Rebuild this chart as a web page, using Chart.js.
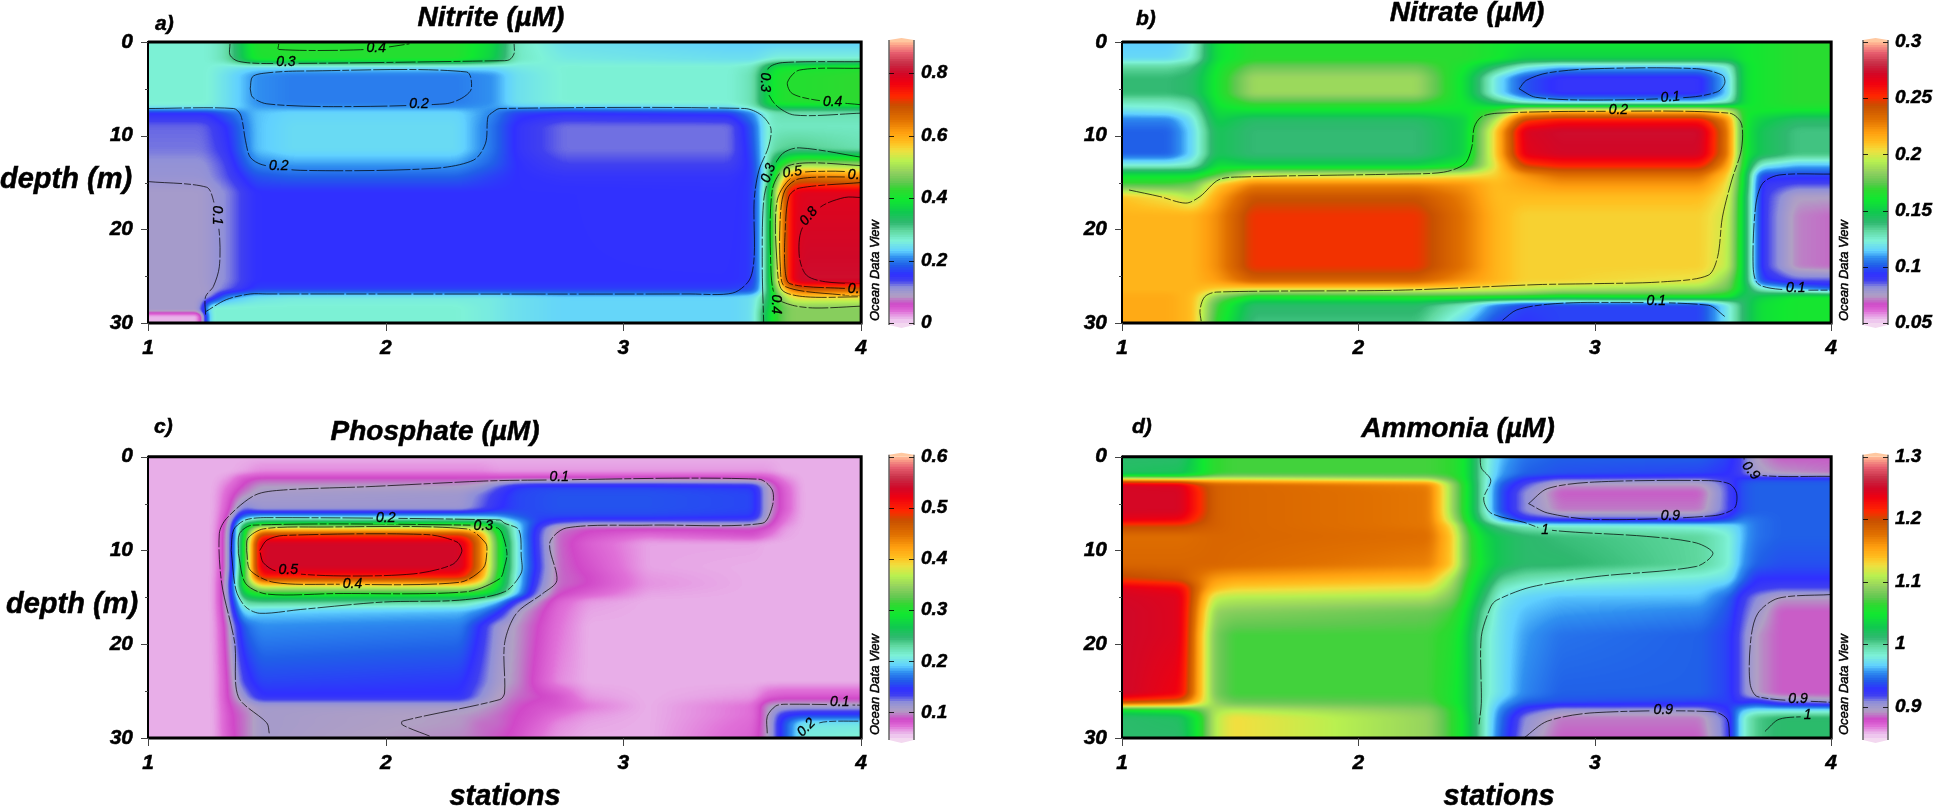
<!DOCTYPE html>
<html lang="en">
<head>
  <meta charset="UTF-8" />
  <title>Nutrients by station and depth</title>
  <script src="https://cdn.jsdelivr.net/npm/chart.js@4"></script>
  <style>
    body { margin: 0; background: #fff; }
    canvas { position: absolute; }
  </style>
</head>
<body>
<canvas id="mapA"></canvas><canvas id="barA"></canvas>
<canvas id="mapB"></canvas><canvas id="barB"></canvas>
<canvas id="mapC"></canvas><canvas id="barC"></canvas>
<canvas id="mapD"></canvas><canvas id="barD"></canvas>
<script>
// ---- axis ticks
const stationTicks = [1, 2, 3, 4];
const depthTicks = [0, 5, 10, 15, 20, 25, 30];
const nitriteScale = [0, 0.2, 0.4, 0.6, 0.8];
const nitrateScale = [0.05, 0.1, 0.15, 0.2, 0.25, 0.3];
const phosphateScale = [0.1, 0.2, 0.3, 0.4, 0.5, 0.6];
const ammoniaScale = [0.9, 1, 1.1, 1.2, 1.3];

// ---- Nitrite, values (rows = depths, columns = stations)
const nitriteStations = [1, 1.23, 1.25, 1.33, 1.45, 1.6, 2.3, 2.45, 2.55, 2.75, 3.45, 3.55, 3.6, 3.64, 3.7, 3.75, 4];
const nitriteDepths = [0, 1.9, 2.6, 3.5, 6.5, 7, 7.5, 9, 11.5, 13, 14.4, 16, 25.5, 26.5, 27.2, 28.3, 28.9, 29, 30];
const nitriteValues = [
  [.26,.26,.26,.28,.41,.41,.41,.37,.27,.24,.225,.225,.225,.225,.225,.225,.225],
  [.26,.26,.26,.28,.40,.41,.41,.36,.27,.25,.24,.24,.25,.26,.26,.26,.26],
  [.26,.26,.26,.25,.24,.24,.24,.24,.25,.26,.26,.27,.33,.38,.39,.39,.40],
  [.26,.26,.26,.24,.205,.195,.195,.205,.24,.26,.26,.28,.36,.40,.41,.41,.42],
  [.26,.26,.26,.24,.205,.195,.195,.205,.24,.26,.26,.28,.36,.40,.41,.41,.42],
  [.25,.25,.25,.24,.21,.205,.205,.21,.22,.22,.24,.27,.32,.35,.35,.35,.35],
  [.15,.15,.15,.18,.22,.23,.23,.2,.16,.15,.16,.21,.26,.28,.28,.28,.28],
  [.12,.12,.125,.15,.22,.235,.235,.19,.145,.117,.117,.18,.26,.27,.27,.27,.27],
  [.115,.115,.12,.14,.22,.235,.235,.19,.145,.117,.117,.17,.26,.29,.30,.30,.28],
  [.105,.105,.11,.13,.2,.21,.21,.18,.15,.13,.13,.16,.26,.36,.45,.48,.47],
  [.102,.102,.105,.125,.17,.18,.18,.16,.15,.145,.145,.155,.26,.42,.62,.65,.62],
  [.09,.09,.095,.11,.15,.15,.15,.15,.15,.15,.148,.155,.28,.5,.76,.78,.78],
  [.09,.09,.095,.11,.15,.15,.15,.15,.15,.15,.15,.155,.28,.5,.76,.8,.8],
  [.09,.09,.09,.12,.16,.16,.16,.16,.16,.16,.16,.17,.28,.46,.62,.66,.66],
  [.09,.09,.09,.2,.24,.25,.25,.25,.24,.23,.23,.24,.3,.42,.54,.56,.55],
  [.09,.09,.26,.26,.26,.26,.26,.25,.24,.23,.23,.24,.33,.41,.47,.47,.47],
  [.09,.09,.26,.26,.26,.26,.26,.25,.24,.23,.23,.24,.35,.42,.47,.47,.47],
  [.012,.012,.26,.26,.26,.26,.26,.25,.24,.23,.23,.24,.35,.42,.47,.47,.47],
  [.012,.012,.26,.26,.26,.26,.26,.25,.24,.23,.23,.24,.35,.42,.47,.47,.47]
];
const nitriteContours = [
  [[1.345,.2],[1.345,1.4],[1.38,2.06],[1.5,2.3],[2.479,2],[2.52,1.9],[2.54,1.24],[2.54,.2]],
  [[1.55,.2],[1.55,.8],[1.92,.8],[2.1,.2]],
  [[1.43,5],[1.44,3.7],[1.5,3.3],[1.64,3.1],[2.34,3.2],[2.36,5],[2.32,6],[2.25,6.6],[1.78,6.9],[1.5,6.6],[1.44,5.9],[1.43,5]],
  [[1,7.1],[1.36,7.1],[1.39,7.8],[1.41,10.5],[1.43,12.3],[1.48,13.1],[1.64,13.7],[2.2,13.5],[2.37,12.6],[2.42,10.8],[2.43,8],[2.45,7.5],[2.48,7.1],[3.51,7.1],[3.58,7.8],[3.62,9.2],[3.61,11.2],[3.57,13.7],[3.55,16.9],[3.55,22.9],[3.53,25.4],[3.46,26.8],[3.28,26.9],[1.5,26.9],[1.43,26.9],[1.33,27.5],[1.242,28.8]],
  [[1,14.9],[1.246,15.5],[1.275,16.9],[1.3,20.4],[1.3,24],[1.275,26.1],[1.242,27.2],[1.242,29.1]],
  [[4,2.1],[3.67,2.2],[3.61,2.8],[3.6,4.8],[3.64,6.7],[3.72,7.8],[4,7.6]],
  [[4,2.8],[3.74,3],[3.69,4.3],[3.71,5.5],[3.81,6.2],[4,6.7]],
  [[4,12.3],[3.74,11.3],[3.67,11.9],[3.62,14],[3.59,16.9],[3.584,24],[3.59,30]],
  [[4,13.2],[3.78,12.9],[3.68,13.4],[3.626,15.8],[3.62,24],[3.64,27.2],[3.71,28.1],[3.81,28.4],[4,28.2]],
  [[4,13.9],[3.85,13.8],[3.72,14.2],[3.647,16.9],[3.647,24],[3.668,26.5],[3.766,27.2],[4,27.2]],
  [[4,14.4],[3.74,14.6],[3.68,15.8],[3.66,18.6],[3.66,24],[3.68,26.1],[3.92,27],[4,27]],
  [[4,15],[3.74,15.6],[3.696,16.5],[3.68,20.4],[3.68,24.3],[3.70,25.8],[3.92,26.3],[4,26.3]],
  [[4,16.6],[3.93,16.6],[3.83,17.6],[3.75,20],[3.74,22.9],[3.77,24.9],[3.85,25.6],[4,25.8]]
];
const nitriteLabels = [
  ['0.4',1.96,.7,0],['0.3',1.58,2.1,0],['0.2',2.14,6.6,0],['0.2',1.55,13.25,0],['0.1',1.29,18.5,90],
  ['0.3',3.595,4.3,90],['0.4',3.88,6.4,0],['0.3',3.61,14,-70],['0.5',3.71,13.9,-8],['0.6',3.985,14.2,0],
  ['0.8',3.78,18.6,-50],['0.7',3.985,26.4,0],['0.4',3.64,28,90]
];

// ---- Nitrate
const nitrateStations = [1, 1.2, 1.3, 1.4, 1.55, 2.25, 2.45, 2.58, 2.7, 2.85, 3.45, 3.57, 3.63, 3.7, 3.85, 4];
const nitrateDepths = [0, 1.8, 2.6, 3.8, 5.5, 6.5, 7.2, 8.3, 9.5, 12, 13.2, 14.2, 15.2, 16.5, 18.5, 24, 25.5, 26.4, 27.2, 28, 30];
const nitrateValues = [
  [.112,.112,.12,.155,.165,.165,.165,.16,.158,.158,.158,.158,.158,.16,.165,.165],
  [.115,.115,.122,.155,.165,.165,.165,.16,.15,.15,.15,.15,.158,.16,.165,.165],
  [.13,.13,.135,.158,.175,.175,.16,.14,.122,.112,.112,.122,.155,.16,.165,.165],
  [.137,.137,.14,.16,.185,.185,.155,.118,.098,.09,.09,.115,.155,.16,.165,.165],
  [.137,.137,.14,.16,.185,.185,.155,.118,.098,.09,.09,.115,.155,.16,.165,.165],
  [.125,.125,.13,.158,.17,.17,.158,.14,.122,.115,.115,.125,.155,.16,.165,.165],
  [.118,.12,.125,.155,.158,.158,.158,.165,.195,.2,.2,.19,.16,.16,.16,.16],
  [.105,.105,.118,.15,.14,.14,.15,.19,.245,.255,.255,.22,.16,.15,.14,.14],
  [.1,.1,.115,.145,.137,.137,.15,.205,.268,.272,.272,.225,.16,.145,.135,.135],
  [.1,.1,.115,.145,.137,.137,.15,.205,.265,.27,.27,.225,.16,.145,.135,.135],
  [.122,.122,.125,.155,.15,.15,.16,.2,.245,.252,.252,.215,.16,.12,.11,.11],
  [.155,.155,.155,.17,.195,.195,.2,.205,.22,.23,.23,.205,.155,.095,.095,.095],
  [.17,.17,.175,.205,.225,.225,.22,.21,.215,.22,.22,.2,.155,.09,.085,.085],
  [.208,.2,.19,.215,.24,.24,.225,.21,.21,.21,.21,.198,.15,.09,.073,.073],
  [.212,.212,.212,.222,.248,.248,.228,.212,.205,.205,.205,.195,.15,.09,.07,.068],
  [.212,.212,.212,.222,.248,.248,.228,.212,.205,.205,.205,.193,.15,.09,.07,.068],
  [.212,.212,.212,.218,.235,.235,.22,.212,.205,.205,.2,.18,.15,.095,.085,.085],
  [.212,.212,.212,.205,.2,.2,.2,.198,.195,.19,.185,.175,.15,.125,.11,.1],
  [.215,.215,.21,.18,.16,.165,.165,.165,.165,.16,.165,.16,.14,.15,.16,.16],
  [.215,.215,.21,.17,.14,.14,.125,.105,.095,.095,.095,.12,.14,.155,.16,.16],
  [.215,.215,.21,.165,.135,.135,.112,.095,.092,.095,.095,.12,.14,.155,.16,.16]
];
const nitrateContours = [
  [[1.03,15.8],[1.16,16.5],[1.27,17.2],[1.33,16.5],[1.41,14.7],[1.52,14.4],[2.17,14.1],[2.36,13.9],[2.45,13],[2.48,11.2],[2.49,9.1],[2.52,8],[2.59,7.6],[3,7.4],[3.57,7.6],[3.62,8.7],[3.62,11.5],[3.58,14.7],[3.54,18.7],[3.52,22.9],[3.48,24.9],[3.29,25.6],[3,25.8],[2.76,25.9],[2.17,26.5],[1.4,26.7],[1.35,27.2],[1.33,28.6],[1.335,29.8]],
  [[2.68,5],[2.71,4.1],[2.8,3.3],[3,2.85],[3.43,2.85],[3.54,3.55],[3.55,4.4],[3.52,5.3],[3.4,5.9],[3,6.2],[2.75,5.9],[2.68,5]],
  [[2.61,29.7],[2.67,28.6],[2.8,28],[3,27.8],[3.48,28.1],[3.55,29.3]],
  [[4,14.1],[3.78,14.2],[3.71,15.1],[3.68,17.6],[3.67,24],[3.69,25.8],[3.78,26.4],[4,26.5]]
];
const nitrateLabels = [['0.1',3.32,5.9,-5],['0.2',3.1,7.3,0],['0.1',3.26,27.7,0],['0.1',3.85,26.3,0]];

// ---- Phosphate
const phosphateStations = [1, 1.28, 1.34, 1.4, 1.47, 2.32, 2.4, 2.47, 2.55, 2.63, 2.72, 2.85, 3.1, 3.55, 3.61, 3.67, 3.75, 4];
const phosphateDepths = [0, 1.6, 2.3, 3.2, 4, 5.6, 6.4, 7, 7.6, 8.4, 9.2, 11.8, 12.8, 13.6, 14.6, 15.4, 16.4, 18, 24, 25.6, 26.6, 27.6, 28.4, 30];
const phosphateValues = [
  [.058,.058,.058,.058,.058,.058,.058,.058,.058,.058,.058,.058,.058,.058,.058,.058,.058,.058],
  [.058,.058,.058,.06,.065,.065,.065,.062,.062,.062,.062,.062,.062,.062,.062,.058,.058,.058],
  [.058,.058,.062,.078,.085,.085,.085,.085,.085,.085,.085,.085,.085,.085,.08,.065,.058,.058],
  [.058,.058,.07,.085,.1,.1,.105,.125,.145,.15,.15,.15,.15,.145,.1,.075,.058,.058],
  [.058,.058,.075,.095,.105,.108,.12,.135,.15,.152,.155,.155,.155,.15,.1,.078,.058,.058],
  [.058,.058,.08,.125,.11,.11,.125,.14,.15,.152,.155,.155,.155,.15,.1,.078,.058,.058],
  [.058,.058,.085,.17,.19,.19,.185,.18,.16,.15,.15,.15,.15,.145,.098,.072,.058,.058],
  [.058,.058,.09,.23,.26,.26,.26,.24,.19,.15,.13,.12,.12,.12,.09,.068,.058,.058],
  [.058,.058,.095,.27,.38,.38,.36,.28,.2,.14,.095,.085,.085,.085,.08,.062,.058,.058],
  [.058,.058,.1,.27,.49,.49,.43,.3,.2,.135,.09,.08,.07,.08,.068,.06,.058,.058],
  [.058,.058,.1,.28,.535,.535,.44,.31,.205,.135,.09,.075,.06,.06,.058,.058,.058,.058],
  [.058,.058,.1,.28,.535,.535,.44,.31,.205,.14,.09,.08,.06,.058,.058,.058,.058,.058],
  [.058,.058,.105,.29,.5,.5,.42,.3,.2,.135,.09,.083,.062,.058,.058,.058,.058,.058],
  [.058,.058,.11,.3,.4,.4,.37,.29,.2,.13,.09,.083,.063,.058,.058,.058,.058,.058],
  [.058,.058,.11,.27,.3,.3,.29,.26,.19,.12,.085,.075,.06,.058,.058,.058,.058,.058],
  [.058,.058,.11,.23,.24,.23,.21,.19,.13,.1,.075,.062,.058,.058,.058,.058,.058,.058],
  [.058,.058,.105,.2,.19,.185,.175,.15,.105,.09,.072,.06,.058,.058,.058,.058,.058,.058],
  [.058,.058,.095,.16,.175,.17,.14,.11,.098,.085,.07,.058,.058,.058,.058,.058,.058,.058],
  [.058,.058,.085,.13,.15,.145,.125,.105,.096,.08,.065,.058,.058,.058,.058,.058,.058,.058],
  [.058,.058,.085,.11,.14,.14,.115,.1,.09,.085,.08,.062,.058,.062,.075,.078,.078,.078],
  [.058,.058,.082,.095,.105,.105,.1,.095,.085,.08,.078,.068,.058,.07,.1,.105,.105,.105],
  [.058,.058,.08,.09,.105,.098,.095,.09,.083,.078,.07,.062,.058,.07,.1,.14,.15,.15],
  [.058,.058,.08,.09,.105,.098,.09,.09,.082,.075,.065,.06,.058,.072,.1,.15,.2,.2],
  [.058,.058,.078,.09,.105,.095,.09,.085,.08,.07,.062,.058,.058,.075,.1,.15,.205,.21]
];
const phosphateContours = [
  [[1.51,29.5],[1.5,28.4],[1.38,25.6],[1.365,19.9],[1.31,13.5],[1.3,8.2],[1.33,6.6],[1.45,4.1],[1.57,3.55],[1.92,3.2],[2.41,2.6],[2.62,2.5],[3.57,2.4],[3.626,3.55],[3.626,5.3],[3.584,7.1],[3.11,7.3],[2.76,7.6],[2.69,9.2],[2.72,13.2],[2.66,14.6],[2.55,16.7],[2.5,19.9],[2.5,25.2],[2.48,25.9],[2.07,28.2],[2.07,28.6],[2.185,29.8]],
  [[1.35,10],[1.36,7.8],[1.41,6.75],[1.5,6.5],[2.48,6.75],[2.5,7.1],[2.56,7.8],[2.57,10.6],[2.57,12.4],[2.5,14.4],[2.31,15.3],[1.99,15.5],[1.64,16.3],[1.47,16.7],[1.41,16],[1.37,14.2],[1.35,10]],
  [[1.38,10.3],[1.385,8.2],[1.44,7.3],[2.37,7.3],[2.47,7.6],[2.49,8.2],[2.51,10.3],[2.5,11.7],[2.48,13],[2.34,14.4],[1.78,14.6],[1.5,14.65],[1.41,13.5],[1.38,10.3]],
  [[1.415,10],[1.42,8.7],[1.485,7.7],[1.71,7.5],[2.34,7.7],[2.42,9.2],[2.425,10.3],[2.41,11.9],[2.31,13.4],[1.78,13.6],[1.53,13.4],[1.43,12.1],[1.415,10]],
  [[1.47,10],[1.5,8.9],[1.57,8.4],[2.17,8.3],[2.3,9.1],[2.32,10.1],[2.28,11.5],[2.115,12.5],[1.78,12.7],[1.54,12.2],[1.485,11.3],[1.47,10]],
  [[3.605,29.5],[3.605,27.7],[3.64,26.6],[3.68,26.4],[4,26.5]],
  [[3.74,30],[3.77,29],[3.84,28.3],[4,28.2]]
];
const phosphateLabels = [['0.2',2,6.6,0],['0.3',2.41,7.4,0],['0.5',1.59,12.1,0],['0.4',1.86,13.6,0],['0.1',2.73,2.2,0],['0.1',3.91,26.2,0],['0.2',3.77,28.9,-45]];

// ---- Ammonia
const ammoniaStations = [1, 1.25, 1.33, 1.39, 1.47, 2.3, 2.4, 2.46, 2.53, 2.6, 2.7, 2.85, 3.45, 3.57, 3.62, 3.68, 3.78, 4];
const ammoniaDepths = [0, 1.9, 2.4, 2.9, 3.8, 5.8, 6.8, 7.3, 8.5, 11.5, 13, 14, 15, 16.5, 19, 25.3, 26.2, 27, 27.8, 30];
const ammoniaValues = [
  [1.01,1.01,1.04,1.06,1.065,1.065,1.06,1.04,.985,.96,.945,.94,.94,.93,.915,.89,.88,.88],
  [1.015,1.02,1.04,1.06,1.065,1.065,1.06,1.04,.985,.955,.94,.935,.93,.925,.915,.895,.89,.885],
  [1.13,1.12,1.12,1.12,1.12,1.1,1.07,1.04,.985,.95,.925,.91,.905,.92,.93,.935,.935,.935],
  [1.245,1.24,1.2,1.185,1.18,1.165,1.09,1.045,.985,.94,.915,.89,.89,.915,.935,.94,.94,.94],
  [1.245,1.245,1.21,1.185,1.18,1.17,1.09,1.045,.985,.935,.905,.88,.88,.915,.935,.94,.94,.94],
  [1.245,1.245,1.21,1.185,1.18,1.17,1.09,1.045,.985,.935,.905,.885,.885,.915,.935,.94,.94,.94],
  [1.235,1.23,1.2,1.185,1.18,1.17,1.1,1.05,1,.96,.925,.92,.92,.935,.95,.945,.94,.94],
  [1.2,1.2,1.19,1.185,1.18,1.17,1.12,1.06,1.02,1,.985,.98,.975,.97,.96,.945,.94,.94],
  [1.175,1.175,1.178,1.18,1.18,1.175,1.13,1.07,1.035,1.02,1.01,1.005,.995,.98,.96,.945,.94,.94],
  [1.18,1.18,1.18,1.18,1.178,1.165,1.13,1.07,1.04,1.02,1.01,1.01,.995,.98,.955,.94,.935,.935],
  [1.2,1.19,1.17,1.155,1.15,1.14,1.1,1.06,1.03,1,.99,.985,.975,.97,.945,.925,.925,.925],
  [1.24,1.23,1.17,1.14,1.13,1.12,1.09,1.055,1.02,.985,.975,.97,.965,.955,.93,.92,.915,.915],
  [1.245,1.24,1.16,1.11,1.105,1.1,1.08,1.05,1.01,.975,.965,.96,.96,.94,.92,.905,.89,.89],
  [1.248,1.24,1.15,1.09,1.085,1.075,1.065,1.04,.995,.97,.96,.955,.95,.935,.915,.9,.88,.88],
  [1.248,1.24,1.14,1.08,1.065,1.065,1.055,1.03,.985,.97,.955,.945,.94,.93,.91,.89,.88,.88],
  [1.248,1.23,1.14,1.08,1.065,1.065,1.05,1.03,.985,.97,.95,.94,.94,.93,.91,.89,.88,.88],
  [1.2,1.18,1.13,1.09,1.075,1.07,1.05,1.03,.985,.96,.94,.935,.93,.93,.92,.93,.91,.9],
  [1.04,1.05,1.07,1.1,1.105,1.085,1.06,1.03,.985,.95,.92,.9,.9,.925,.96,.97,.97,.97],
  [1.01,1.015,1.05,1.105,1.125,1.09,1.06,1.035,.985,.945,.905,.885,.885,.915,.975,1,1.01,1.01],
  [1.01,1.01,1.05,1.105,1.125,1.09,1.06,1.035,.985,.94,.9,.88,.88,.915,.975,1,1.01,1.01]
];
const ammoniaContours = [
  [[3.63,0],[3.64,.9],[3.69,1.95],[4,2.1]],
  [[2.72,5],[2.8,3.4],[3,2.7],[3.48,2.55],[3.57,2.9],[3.6,3.9],[3.59,5.5],[3.5,6.3],[3,6.7],[2.8,6],[2.72,5]],
  [[2.515,0],[2.52,1.2],[2.56,2.5],[2.53,4.5],[2.56,6],[2.7,7],[2.8,7.8],[3.22,8.5],[3.43,9.2],[3.5,10.3],[3.43,11.7],[3,12.8],[2.73,13.9],[2.585,15.3],[2.56,16],[2.52,19.2],[2.52,26.3],[2.51,28.6]],
  [[4,14.7],[3.776,15.1],[3.69,16.7],[3.66,19.5],[3.657,24.2],[3.69,25.6],[4,26.2]],
  [[2.7,30],[2.8,28.2],[3,27.3],[3.5,27.2],[3.56,28],[3.57,30]],
  [[3.72,29.3],[3.78,28],[3.9,27.7]]
];
const ammoniaLabels = [['0.9',3.66,1.5,50],['0.9',3.32,6.3,0],['1',2.79,7.8,0],['0.9',3.86,25.9,0],['0.9',3.29,27,0],['1',3.9,27.6,0]];

// ---- colour scale, same for all panels (position along range, colour)
const paletteStops = [0,.015,.035,.06,.09,.12,.145,.167,.2,.228,.25,.287,.322,.35,.387,.433,.469,.493,.529,.57,.607,.635,.671,.718,.767,.8,.848,.883,.919,.956,.989,1];
const paletteColors = ['#f0d0f0','#e8aee8','#e070d8','#d048c8','#b0a0c4','#9090d8','#4040f0','#3030ff','#2060e8','#3090f0','#60d0ff','#7ef2d8','#60d8a0','#30b870','#10c850','#10e830','#30d830','#60c850','#90d060','#b8f050','#f0e040','#ffc020','#ffa010','#e07000','#c85000','#ff2800','#f00010','#d00828','#c83048','#e86070','#ffb090','#ffc8a0'];

const FONT = 'Liberation Sans';
const lut = [];
function hex(c) {
  return [parseInt(c.slice(1, 3), 16), parseInt(c.slice(3, 5), 16), parseInt(c.slice(5, 7), 16)];
}
for (let i = 0; i <= 1000; i++) {
  const f = i / 1000;
  let k = 0;
  while (k < paletteStops.length - 2 && paletteStops[k + 1] < f) k++;
  const t = (f - paletteStops[k]) / (paletteStops[k + 1] - paletteStops[k]);
  const a = hex(paletteColors[k]), b = hex(paletteColors[k + 1]);
  lut.push([a[0] + (b[0] - a[0]) * t, a[1] + (b[1] - a[1]) * t, a[2] + (b[2] - a[2]) * t]);
}
function colorAt(v, range) {
  let f = (v - range[0]) / (range[1] - range[0]);
  f = Math.max(0, Math.min(1, f));
  return lut[Math.round(f * 1000)];
}

function segment(list, v) {
  let k = 0;
  while (k < list.length - 2 && list[k + 1] <= v) k++;
  return k;
}

// running mean along rows or columns, rounds off the corners of the field
function soften(vals, w, h, rx, ry) {
  const out = new Float32Array(vals.length);
  for (let y = 0; y < h; y++) {
    for (let x = 0; x < w; x++) {
      let sum = 0;
      for (let i = -rx; i <= rx; i++) sum += vals[y * w + Math.max(0, Math.min(w - 1, x + i))];
      out[y * w + x] = sum / (2 * rx + 1);
    }
  }
  const res = new Float32Array(vals.length);
  for (let y = 0; y < h; y++) {
    for (let x = 0; x < w; x++) {
      let sum = 0;
      for (let i = -ry; i <= ry; i++) sum += out[Math.max(0, Math.min(h - 1, y + i)) * w + x];
      res[y * w + x] = sum / (2 * ry + 1);
    }
  }
  return res;
}

// paints the gridded field into the plot, through the chart's own scales
function drawField(chart, p) {
  const area = chart.chartArea;
  const w = Math.ceil(area.right - area.left), h = Math.ceil(area.bottom - area.top);
  const off = document.createElement('canvas');
  off.width = w; off.height = h;
  const octx = off.getContext('2d');
  const img = octx.createImageData(w, h);
  const cols = [], rows = [];
  for (let x = 0; x < w; x++) {
    const s = chart.scales.x.getValueForPixel(area.left + x + 0.5);
    const k = segment(p.stations, s);
    cols.push([k, Math.min(1, Math.max(0, (s - p.stations[k]) / (p.stations[k + 1] - p.stations[k])))]);
  }
  for (let y = 0; y < h; y++) {
    const d = chart.scales.y.getValueForPixel(area.top + y + 0.5);
    const k = segment(p.depths, d);
    rows.push([k, Math.min(1, Math.max(0, (d - p.depths[k]) / (p.depths[k + 1] - p.depths[k])))]);
  }
  let vals = new Float32Array(w * h);
  for (let y = 0; y < h; y++) {
    const r0 = p.values[rows[y][0]], r1 = p.values[rows[y][0] + 1], v = rows[y][1];
    for (let x = 0; x < w; x++) {
      const c = cols[x][0], u = cols[x][1];
      vals[y * w + x] = (r0[c] * (1 - u) + r0[c + 1] * u) * (1 - v) + (r1[c] * (1 - u) + r1[c + 1] * u) * v;
    }
  }
  vals = soften(soften(vals, w, h, 5, 2), w, h, 5, 2);
  let n = 0;
  for (let i = 0; i < w * h; i++) {
    const rgb = colorAt(vals[i], p.range);
    img.data[n++] = rgb[0]; img.data[n++] = rgb[1]; img.data[n++] = rgb[2]; img.data[n++] = 255;
  }
  octx.putImageData(img, 0, 0);
  chart.$field = off;
  chart.ctx.drawImage(off, area.left, area.top);
}

function text(ctx, str, x, y, font, align) {
  ctx.font = font;
  ctx.textAlign = align || 'left';
  ctx.textBaseline = 'alphabetic';
  ctx.fillStyle = '#000';
  ctx.strokeStyle = '#000';
  ctx.lineWidth = 0.5;
  ctx.fillText(str, x, y);
  ctx.strokeText(str, x, y);
}

function mapPlugin(p) {
  return {
    id: 'field',
    beforeDatasetsDraw(chart) { drawField(chart, p); },
    afterDatasetsDraw(chart) {
      const ctx = chart.ctx, area = chart.chartArea, sx = chart.scales.x, sy = chart.scales.y;
      ctx.save();
      ctx.beginPath();
      ctx.rect(area.left, area.top, area.right - area.left, area.bottom - area.top);
      ctx.clip();
      ctx.font = 'italic 14px "' + FONT + '"';
      p.labels.forEach(function (l) {
        const px = sx.getPixelForValue(l[1]), py = sy.getPixelForValue(l[2]);
        const tw = ctx.measureText(l[0]).width + 6;
        // contour is broken under its label
        ctx.save();
        ctx.translate(px, py);
        ctx.rotate(l[3] * Math.PI / 180);
        ctx.beginPath();
        ctx.rect(-tw / 2, -6, tw, 12);
        ctx.clip();
        ctx.rotate(-l[3] * Math.PI / 180);
        ctx.translate(-px, -py);
        ctx.drawImage(chart.$field, area.left, area.top);
        ctx.restore();
        ctx.save();
        ctx.translate(px, py);
        ctx.rotate(l[3] * Math.PI / 180);
        ctx.textAlign = 'center';
        ctx.textBaseline = 'middle';
        ctx.fillStyle = '#000';
        ctx.strokeStyle = '#000';
        ctx.lineWidth = 0.3;
        ctx.font = 'italic 14px "' + FONT + '"';
        ctx.fillText(l[0], 0, 0);
        ctx.strokeText(l[0], 0, 0);
        ctx.restore();
      });
      ctx.restore();
      // frame and tick marks
      ctx.save();
      ctx.strokeStyle = '#000';
      ctx.lineWidth = 3;
      ctx.beginPath();
      ctx.moveTo(area.left, area.top); ctx.lineTo(area.right, area.top);
      ctx.lineTo(area.right, area.bottom); ctx.lineTo(area.left, area.bottom);
      ctx.stroke();
      ctx.lineWidth = 2;
      ctx.beginPath();
      ctx.moveTo(area.left, area.top - 1); ctx.lineTo(area.left, area.bottom + 1);
      ctx.stroke();
      ctx.strokeStyle = '#444';
      ctx.lineWidth = 1;
      ctx.beginPath();
      stationTicks.forEach(function (s) {
        const x = Math.round(sx.getPixelForValue(s)) + 0.5;
        ctx.moveTo(x, area.bottom); ctx.lineTo(x, area.bottom + 8);
      });
      depthTicks.forEach(function (d) {
        const y = Math.round(sy.getPixelForValue(d)) + 0.5;
        ctx.moveTo(area.left, y); ctx.lineTo(area.left - (d % 10 === 0 ? 7 : 3), y);
      });
      ctx.stroke();
      ctx.restore();
    },
    afterDraw(chart) {
      const ctx = chart.ctx;
      ctx.save();
      p.texts.forEach(function (t) { text(ctx, t[0], t[1], t[2], t[3], t[4]); });
      ctx.save();
      ctx.translate(p.odvX, p.odvY);
      ctx.rotate(-Math.PI / 2);
      text(ctx, 'Ocean Data View', 0, 0, 'italic 13px "' + FONT + '"');
      ctx.restore();
      ctx.restore();
    }
  };
}

function makeMap(p) {
  const el = document.getElementById(p.map);
  el.width = p.box[2]; el.height = p.box[3];
  el.style.left = p.box[0] + 'px'; el.style.top = p.box[1] + 'px';
  const tickFont = { family: FONT, size: 21, weight: 'bold', style: 'italic' };
  new Chart(el, {
    type: 'scatter',
    data: {
      datasets: p.contours.map(function (line) {
        return {
          data: line.map(function (q) { return { x: q[0], y: q[1] }; }),
          showLine: true,
          pointRadius: 0,
          borderColor: 'rgba(0,0,0,0.8)',
          borderWidth: 0.9,
          borderDash: [34, 2, 7, 2, 20, 2],
          tension: 0.3
        };
      })
    },
    options: {
      responsive: false,
      animation: false,
      events: [],
      layout: { padding: { left: 0, top: p.area[1], right: p.box[2] - p.area[2], bottom: 0 } },
      plugins: { legend: { display: false }, tooltip: { enabled: false } },
      scales: {
        x: {
          type: 'linear', min: 1, max: 4,
          grid: { display: false, drawTicks: false }, border: { display: false },
          afterFit: function (s) { s.height = p.box[3] - p.area[3]; },
          afterBuildTicks: function (s) { s.ticks = stationTicks.map(function (v) { return { value: v }; }); },
          ticks: { font: tickFont, color: '#000', textStrokeColor: '#000', textStrokeWidth: 0.5, padding: 13, maxRotation: 0, autoSkip: false }
        },
        y: {
          type: 'linear', min: 0, max: 30, reverse: true,
          grid: { display: false, drawTicks: false }, border: { display: false },
          afterFit: function (s) { s.width = p.area[0]; },
          afterBuildTicks: function (s) { s.ticks = depthTicks.map(function (v) { return { value: v }; }); },
          ticks: {
            font: tickFont, color: '#000', textStrokeColor: '#000', textStrokeWidth: 0.5, padding: 15, autoSkip: false,
            callback: function (v) { return v % 10 === 0 ? String(v) : ''; }
          }
        }
      }
    },
    plugins: [mapPlugin(p)]
  });
}

const colorbarPlugin = {
  id: 'colorbarFrame',
  afterDatasetsDraw(chart) {
    const ctx = chart.ctx, a = chart.chartArea;
    const tv = chart.options.scales.y.tickList;
    ctx.save();
    // end caps of the scale
    const mid = (a.left + a.right) / 2;
    ctx.fillStyle = '#f3d8f0';
    ctx.beginPath();
    ctx.moveTo(a.left, a.bottom); ctx.lineTo(a.left, a.bottom + 2); ctx.lineTo(mid, a.bottom + 5);
    ctx.lineTo(a.right, a.bottom + 2); ctx.lineTo(a.right, a.bottom);
    ctx.closePath(); ctx.fill();
    ctx.fillStyle = '#ffc8a0';
    ctx.beginPath();
    ctx.moveTo(a.left, a.top); ctx.lineTo(a.left, a.top - 2); ctx.lineTo(mid, a.top - 4);
    ctx.lineTo(a.right, a.top - 2); ctx.lineTo(a.right, a.top);
    ctx.closePath(); ctx.fill();
    ctx.lineWidth = 1.5;
    ctx.strokeStyle = '#666';
    ctx.beginPath();
    ctx.moveTo(a.left, a.top - 2); ctx.lineTo(a.left, a.bottom + 2);
    ctx.moveTo(a.right, a.top - 2); ctx.lineTo(a.right, a.bottom + 2);
    ctx.stroke();
    ctx.lineWidth = 1;
    ctx.strokeStyle = 'rgba(0,0,0,0.8)';
    ctx.beginPath();
    tv.forEach(function (v) {
      const y = Math.round(chart.scales.y.getPixelForValue(v)) + 0.5;
      ctx.moveTo(a.left, y); ctx.lineTo(a.left + 5, y);
      ctx.moveTo(a.right, y); ctx.lineTo(a.right - 5, y);
    });
    ctx.stroke();
    ctx.restore();
  }
};

function makeBar(p) {
  const el = document.getElementById(p.bar);
  const b = p.barBox;
  el.width = b[2]; el.height = b[3];
  el.style.left = b[0] + 'px'; el.style.top = b[1] + 'px';
  const steps = 120, sets = [];
  const span = p.range[1] - p.range[0];
  for (let i = 0; i < steps; i++) {
    const lo = p.range[0] + span * i / steps;
    const rgb = colorAt(lo + span / steps / 2, p.range);
    sets.push({
      data: [[lo, Math.min(p.range[1], lo + span * 1.6 / steps)]],
      backgroundColor: 'rgb(' + rgb.map(Math.round).join(',') + ')',
      barPercentage: 1, categoryPercentage: 1, grouped: false, borderWidth: 0
    });
  }
  new Chart(el, {
    type: 'bar',
    data: { labels: [p.title], datasets: sets },
    options: {
      responsive: false,
      animation: false,
      events: [],
      layout: { padding: { left: p.barArea[0] - b[0], top: p.area[1] + p.box[1] - b[1], right: 0, bottom: b[1] + b[3] - (p.area[3] + p.box[1]) } },
      plugins: { legend: { display: false }, tooltip: { enabled: false } },
      scales: {
        x: { display: false },
        y: {
          position: 'right', min: p.range[0], max: p.range[1],
          tickList: p.scale,
          grid: { display: false, drawTicks: false }, border: { display: false },
          afterFit: function (s) { s.width = b[0] + b[2] - p.barArea[1]; },
          afterBuildTicks: function (s) { s.ticks = p.scale.map(function (v) { return { value: v }; }); },
          ticks: {
            font: { family: FONT, size: 19, weight: 'bold', style: 'italic' }, color: '#000', textStrokeColor: '#000', textStrokeWidth: 0.5,
            padding: 7, autoSkip: false,
            callback: function (v) { return String(v); }
          }
        }
      }
    },
    plugins: [colorbarPlugin]
  });
}

const titleFont = 'italic bold 28px "' + FONT + '"';
const axisFont = 'italic bold 29px "' + FONT + '"';
const letterFont = 'italic bold 21px "' + FONT + '"';

// area = left, top, right, bottom of the plot inside its canvas; box = canvas on the page
makePanelSet({
  map: 'mapA', bar: 'barA', box: [0, 0, 880, 380], area: [148, 42, 862.5, 323],
  barBox: [880, 20, 90, 330], barArea: [889, 914],
  stations: nitriteStations, depths: nitriteDepths, values: nitriteValues,
  contours: nitriteContours, labels: nitriteLabels, range: [0, 0.9], scale: nitriteScale, title: 'Nitrite (µM)',
  odvX: 879, odvY: 321,
  texts: [['Nitrite (µM)', 491, 26, titleFont, 'center'], ['a)', 155, 30, letterFont], ['depth (m)', 0, 188, axisFont]]
});
makePanelSet({
  map: 'mapB', bar: 'barB', box: [1000, 0, 850, 380], area: [122, 42, 836.7, 323],
  barBox: [1855, 20, 78, 330], barArea: [1863, 1888],
  stations: nitrateStations, depths: nitrateDepths, values: nitrateValues,
  contours: nitrateContours, labels: nitrateLabels, range: [0.05, 0.3], scale: nitrateScale, title: 'Nitrate (µM)',
  odvX: 848, odvY: 321,
  texts: [['Nitrate (µM)', 467, 21, titleFont, 'center'], ['b)', 136, 25, letterFont]]
});
makePanelSet({
  map: 'mapC', bar: 'barC', box: [0, 400, 880, 410], area: [148, 56.7, 862.5, 338],
  barBox: [880, 430, 90, 330], barArea: [889, 914],
  stations: phosphateStations, depths: phosphateDepths, values: phosphateValues,
  contours: phosphateContours, labels: phosphateLabels, range: [0.05, 0.6], scale: phosphateScale, title: 'Phosphate (µM)',
  odvX: 879, odvY: 335,
  texts: [['Phosphate (µM)', 435, 40, titleFont, 'center'], ['c)', 154, 33, letterFont], ['depth (m)', 6, 213, axisFont], ['stations', 505, 405, axisFont, 'center']]
});
makePanelSet({
  map: 'mapD', bar: 'barD', box: [1000, 400, 850, 410], area: [122, 56.7, 836.7, 338],
  barBox: [1855, 430, 78, 330], barArea: [1863, 1888],
  stations: ammoniaStations, depths: ammoniaDepths, values: ammoniaValues,
  contours: ammoniaContours, labels: ammoniaLabels, range: [0.85, 1.3], scale: ammoniaScale, title: 'Ammonia (µM)',
  odvX: 848, odvY: 335,
  texts: [['Ammonia (µM)', 458, 37, titleFont, 'center'], ['d)', 132, 33, letterFont], ['stations', 499, 405, axisFont, 'center']]
});

function makePanelSet(p) {
  makeMap(p);
  makeBar(p);
}
</script>
</body>
</html>
